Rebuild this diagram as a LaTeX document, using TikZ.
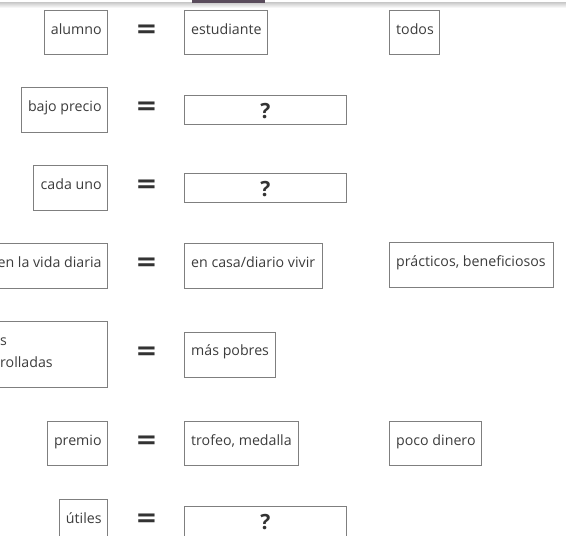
\documentclass[tikz,border=0pt]{standalone}
\usepackage{fontspec}
\setmainfont{Open Sans}
\newfontfamily\eqfont{DejaVu Sans}
\usetikzlibrary{calc}
\definecolor{txt}{HTML}{3C3C3C}
\definecolor{bord}{HTML}{7F7F7F}
\definecolor{eqc}{HTML}{333333}
\definecolor{barc}{HTML}{5A4C5C}
\begin{document}
\begin{tikzpicture}[x=1pt,y=-1pt,
  box/.style={draw=bord, line width=0.8pt, rectangle, inner sep=0pt, anchor=north west},
  lbl/.style={text=txt, font=\fontsize{14.2}{17}\selectfont, inner sep=0pt},
  qm/.style={text=eqc, font=\bfseries\fontsize{21}{24}\selectfont, inner sep=0pt, anchor=base},
  eqs/.style={text=eqc, font=\eqfont\bfseries\fontsize{26}{28}\selectfont, inner sep=0pt, anchor=base}]
\useasboundingbox (0,0) rectangle (566,536);
\clip (0,0) rectangle (566,536);
% top shadow and tab bar
\shade[top color=black!22, bottom color=white] (0,2) rectangle (566,8);
\fill[barc] (192,0) rectangle (265,2.5);
% ---------- row 1
\node[box, minimum width=63, minimum height=44] (a1) at (44,10) {};
\node[lbl, anchor=base east] (ta1) at ($(a1.north east)+(-6,24)$) {alumno};
\node[eqs] (e1) at (146.5,34+3.5) {=};
\node[box, minimum width=83, minimum height=44] (b1) at (184,10) {};
\node[lbl, anchor=base west] (tb1) at ($(b1.north west)+(7,24)$) {estudiante};
\node[box, minimum width=50, minimum height=44] (c1) at (389,10) {};
\node[lbl, anchor=base west] (tc1) at ($(c1.north west)+(7,24)$) {todos};
% ---------- row 2
\node[box, minimum width=86, minimum height=45] (a2) at (21,87) {};
\node[lbl, anchor=base east] (ta2) at ($(a2.north east)+(-6,24)$) {bajo precio};
\node[eqs] (e2) at (146.5,111+3.5) {=};
\node[box, minimum width=162, minimum height=29] (q2) at (184,95) {};
\node[qm] (tq2) at ($(q2.north)+(0,23)$) {?};
% ---------- row 3
\node[box, minimum width=74, minimum height=45] (a3) at (33,165) {};
\node[lbl, anchor=base east] (ta3) at ($(a3.north east)+(-6,24)$) {cada uno};
\node[eqs] (e3) at (146.5,189+3.5) {=};
\node[box, minimum width=162, minimum height=29] (q3) at (184,173) {};
\node[qm] (tq3) at ($(q3.north)+(0,23)$) {?};
% ---------- row 4
\node[box, minimum width=110, minimum height=45] (a4) at (-3,243) {};
\node[lbl, anchor=base east] (ta4) at ($(a4.north east)+(-6,24)$) {en la vida diaria};
\node[eqs] (e4) at (146.5,267+3.5) {=};
\node[box, minimum width=138, minimum height=45] (b4) at (184,243) {};
\node[lbl, anchor=base west] (tb4) at ($(b4.north west)+(7,24)$) {en casa/diario vivir};
\node[box, minimum width=164, minimum height=45] (c4) at (389,242) {};
\node[lbl, anchor=base west] (tc4) at ($(c4.north west)+(7,24)$) {prácticos, beneficiosos};
% ---------- row 5
\node[box, minimum width=110, minimum height=66] (a5) at (-3,321) {};
\node[lbl, anchor=base west] (ta5a) at (0,345) {s};
\node[lbl, anchor=base west] (ta5b) at (0,367) {rolladas};
\node[eqs] (e5) at (146.5,356+3.5) {=};
\node[box, minimum width=91, minimum height=45] (b5) at (184,332) {};
\node[lbl, anchor=base west] (tb5) at ($(b5.north west)+(7,23)$) {más pobres};
% ---------- row 6
\node[box, minimum width=60, minimum height=44] (a6) at (47,421) {};
\node[lbl, anchor=base east] (ta6) at ($(a6.north east)+(-6,24)$) {premio};
\node[eqs] (e6) at (146.5,445+3.5) {=};
\node[box, minimum width=114, minimum height=44] (b6) at (184,421) {};
\node[lbl, anchor=base west] (tb6) at ($(b6.north west)+(7,24)$) {trofeo, medalla};
\node[box, minimum width=92, minimum height=44] (c6) at (389,421) {};
\node[lbl, anchor=base west] (tc6) at ($(c6.north west)+(7,24)$) {poco dinero};
% ---------- row 7
\node[box, minimum width=48, minimum height=44] (a7) at (59,499) {};
\node[lbl, anchor=base east] (ta7) at ($(a7.north east)+(-6,24)$) {útiles};
\node[eqs] (e7) at (146.5,523+3.5) {=};
\node[box, minimum width=162, minimum height=40] (q7) at (184,506) {};
\node[qm] (tq7) at ($(q7.north)+(0,23)$) {?};
\end{tikzpicture}
\end{document}
